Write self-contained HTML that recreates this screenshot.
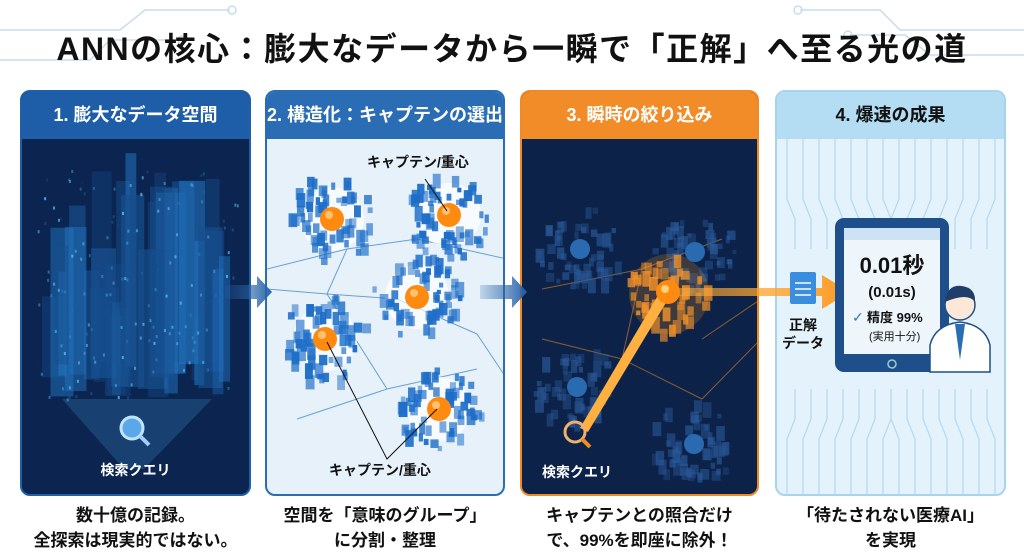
<!DOCTYPE html>
<html><head><meta charset="utf-8"><style>
*{margin:0;padding:0;box-sizing:border-box}
body{width:1024px;height:558px;background:#fff;font-family:"Liberation Sans","Noto Sans CJK JP",sans-serif;position:relative;overflow:hidden}
.t{position:absolute;left:0;width:1024px;top:24px;text-align:center;font-size:32px;font-weight:bold;color:#111;letter-spacing:1.5px}
.p{position:absolute;top:90px;height:406px;border-radius:10px;overflow:hidden}
.h{height:47px;line-height:47px;text-align:center;font-size:18px;font-weight:bold}
.c{position:absolute;top:503px;text-align:center;font-size:17px;font-weight:bold;color:#111;line-height:25px}
svg{position:absolute;left:0;top:0}
</style></head><body>
<svg width="1024" height="558" id="bg">
<g stroke="#c9dcef" stroke-width="1.5" fill="none">
<path d="M0 30 H120 L145 10 H230"/><path d="M0 60 H90 L110 40 H180"/><circle cx="232" cy="10" r="4"/><circle cx="182" cy="40" r="4"/>
<path d="M1024 30 H900 L880 10 H800"/><path d="M1024 55 H930 L905 35 H850"/><circle cx="798" cy="10" r="4"/><circle cx="848" cy="35" r="4"/>
</g></svg>
<div class="t">ANNの核心：膨大なデータから一瞬で「正解」へ至る光の道</div>

<div class="p" style="left:20px;width:231px;background:#0b2550;border:2px solid #1f5fa8">
<div class="h" style="background:#1e5ea8;color:#fff">1. 膨大なデータ空間</div>
<svg width="231" height="360" style="top:47px" id="s1"></svg>
<div style="position:absolute;top:368px;width:100%;text-align:center;color:#fff;font-size:14px;font-weight:bold">検索クエリ</div>
</div>

<div class="p" style="left:265px;width:240px;background:#e6f1fa;border:2px solid #2a6db5">
<div class="h" style="background:#2a6db5;color:#fff">2. 構造化：キャプテンの選出</div>
<svg width="240" height="360" style="top:47px" id="s2"></svg>
<div style="position:absolute;top:60px;left:100px;font-size:14px;font-weight:bold;color:#111">キャプテン/重心</div>
<div style="position:absolute;top:368px;left:62px;font-size:14px;font-weight:bold;color:#111">キャプテン/重心</div>
</div>

<div class="p" style="left:520px;width:239px;background:#0c2248;border:2px solid #f08a24">
<div class="h" style="background:#f28c28;color:#fff">3. 瞬時の絞り込み</div>
<svg width="239" height="360" style="top:47px" id="s3"></svg>
<div style="position:absolute;top:370px;left:20px;color:#fff;font-size:14px;font-weight:bold">検索クエリ</div>
</div>

<div class="p" style="left:775px;width:231px;background:#e4f2fb;border:2px solid #a7d3ee">
<div class="h" style="background:#b4ddf3;color:#111">4. 爆速の成果</div>
<svg width="231" height="360" style="top:47px" id="s4"></svg>
</div>

<svg width="1024" height="558" id="ov" style="pointer-events:none">
<defs><linearGradient id="ag" x1="0" x2="1"><stop offset="0" stop-color="#2a65aa" stop-opacity="0.2"/><stop offset="1" stop-color="#2a65aa"/></linearGradient>
<linearGradient id="og" x1="0" x2="1"><stop offset="0" stop-color="#ffb040" stop-opacity="0.5"/><stop offset="1" stop-color="#ff9a20"/></linearGradient></defs>
<path d="M225 285 H257 V276 L272 292 L257 308 V299 H225Z" fill="url(#ag)"/>
<path d="M480 285 H512 V276 L527 292 L512 308 V299 H480Z" fill="url(#ag)"/>
<path d="M668 288 H822 V275 L850 292 L822 309 V296 H668Z" fill="url(#og)"/>
<path d="M580 428 L660 292 L670 296 L588 432Z" fill="#ffb040"/>
<circle cx="668" cy="292" r="12" fill="#ff8a10"/><circle cx="665" cy="289" r="4" fill="#ffd27a"/>
<circle cx="575" cy="432" r="10" fill="none" stroke="#f0b070" stroke-width="3"/><line x1="582" y1="439" x2="590" y2="447" stroke="#f08a24" stroke-width="4"/>
<circle cx="132" cy="428" r="11" fill="#5aa8e8" stroke="#bfe4ff" stroke-width="3"/><line x1="140" y1="436" x2="149" y2="445" stroke="#9fd0ff" stroke-width="4"/>
<rect x="835" y="218" width="114" height="154" rx="9" fill="#1f4f8a"/>
<rect x="844" y="228" width="96" height="126" fill="#eef6fc"/>
<rect x="844" y="228" width="96" height="12" fill="#cde3f3"/>
<circle cx="892" cy="364" r="4" fill="none" stroke="#9cc" stroke-width="1.5"/>
<text x="892" y="273" font-size="22" font-weight="bold" text-anchor="middle" fill="#111" font-family="Liberation Sans,Noto Sans CJK JP,sans-serif">0.01秒</text>
<text x="892" y="297" font-size="15" font-weight="bold" text-anchor="middle" fill="#111" font-family="Liberation Sans,Noto Sans CJK JP,sans-serif">(0.01s)</text>
<text x="852" y="322" font-size="14" fill="#2a7cc8" font-family="Liberation Sans,sans-serif">✓</text>
<text x="867" y="322" font-size="13" font-weight="bold" fill="#111" font-family="Liberation Sans,Noto Sans CJK JP,sans-serif">精度 99%</text>
<text x="869" y="340" font-size="11" fill="#111" font-family="Liberation Sans,Noto Sans CJK JP,sans-serif">(実用十分)</text>
<rect x="790" y="272" width="26" height="32" rx="2" fill="#3a8ee0"/><g stroke="#fff" stroke-width="1.5"><line x1="795" y1="283" x2="811" y2="283"/><line x1="795" y1="289" x2="811" y2="289"/><line x1="795" y1="295" x2="811" y2="295"/></g>
<text x="803" y="330" font-size="14" font-weight="bold" text-anchor="middle" fill="#111" font-family="Liberation Sans,Noto Sans CJK JP,sans-serif">正解</text>
<text x="803" y="348" font-size="14" font-weight="bold" text-anchor="middle" fill="#111" font-family="Liberation Sans,Noto Sans CJK JP,sans-serif">データ</text>
<path d="M930 372 V345 Q935 325 960 322 Q985 325 990 345 V372Z" fill="#fff" stroke="#1f4f8a" stroke-width="1.5"/>
<path d="M955 324 L960 360 L965 324Z" fill="#2a6db5"/>
<circle cx="960" cy="305" r="15" fill="#fde7d6" stroke="#1f4f8a" stroke-width="1.5"/>
<path d="M945 302 Q947 284 962 286 Q976 288 975 302 Q968 292 945 302Z" fill="#1f3f6a"/>
</svg>

<div class="c" style="left:20px;width:231px">数十億の記録。<br>全探索は現実的ではない。</div>
<div class="c" style="left:265px;width:240px">空間を「意味のグループ」<br>に分割・整理</div>
<div class="c" style="left:520px;width:239px">キャプテンとの照合だけ<br>で、99%を即座に除外！</div>
<div class="c" style="left:775px;width:231px">「待たされない医療AI」<br>を実現</div>

<script>
var NS="http://www.w3.org/2000/svg";
function el(s,t,a){var e=document.createElementNS(NS,t);for(var k in a)e.setAttribute(k,a[k]);s.appendChild(e);return e;}
var r=1;function rnd(){r=(r*16807)%2147483647;return r/2147483647;}
var s1=document.getElementById('s1');
for(var i=0;i<34;i++){var x=20+rnd()*180,h=60+rnd()*160,w=8+rnd()*22;el(s1,'rect',{x:x,y:220-h+rnd()*40,width:w,height:h,fill:rnd()>0.5?'#174f8e':'#2274bf',opacity:0.3+rnd()*0.4});}
for(var i=0;i<150;i++){el(s1,'rect',{x:15+rnd()*200,y:30+rnd()*230,width:2,height:3,fill:'#5cc8ff',opacity:rnd()*0.8});}
el(s1,'path',{d:'M40 260 L190 260 L122 330 L102 330Z',fill:'#4aa8e8',opacity:0.22});
function cluster(s,cx,cy,R,col,op,n){for(var i=0;i<(n||45);i++){var a=rnd()*6.28,d=R*0.35+rnd()*R*0.65,z=4+rnd()*5;el(s,'rect',{x:cx+Math.cos(a)*d-z/2,y:cy+Math.sin(a)*d-z/2,width:z,height:z*(1+rnd()),fill:col,opacity:op*(0.5+rnd()*0.5)});}}
var s2=document.getElementById('s2');
var c2=[[65,80],[182,76],[150,158],[58,200],[172,270]];
[[0,130,80,110],[80,110,150,100],[150,100,240,120],[80,110,60,155],[60,155,0,150],[60,155,130,160],[130,160,210,195],[60,155,120,250],[120,250,210,230],[120,250,30,280],[210,195,240,240]].forEach(function(l){el(s2,'line',{x1:l[0],y1:l[1],x2:l[2],y2:l[3],stroke:'#6aa0d0','stroke-width':1});});
c2.forEach(function(c){el(s2,'circle',{cx:c[0],cy:c[1],r:32,fill:'#fff',opacity:0.7});cluster(s2,c[0],c[1],44,'#1e6ec8',1,60);el(s2,'circle',{cx:c[0],cy:c[1],r:12,fill:'#ff8a10'});el(s2,'circle',{cx:c[0]-3,cy:c[1]-4,r:4,fill:'#ffc070'});});
el(s2,'line',{x1:158,y1:40,x2:180,y2:72,stroke:'#111'});
el(s2,'polyline',{points:'60,203 120,320 170,270',fill:'none',stroke:'#111'});
var s3=document.getElementById('s3');
[[20,150,120,130],[120,130,200,100],[120,130,100,220],[100,220,20,200],[100,220,180,260],[180,260,239,200],[180,200,239,160]].forEach(function(l){el(s3,'line',{x1:l[0],y1:l[1],x2:l[2],y2:l[3],stroke:'#c0782a','stroke-width':1,opacity:0.7});});
[[58,110],[173,113],[55,248],[172,305]].forEach(function(c){cluster(s3,c[0],c[1],42,'#2a5a9a',0.7,55);el(s3,'circle',{cx:c[0],cy:c[1],r:10,fill:'#2a6ab0'});});
el(s3,'circle',{cx:147,cy:155,r:40,fill:'#ff9a20',opacity:0.2});
cluster(s3,147,155,40,'#f0902a',0.9);
var s4=document.getElementById('s4');
for(var i=0;i<14;i++){var x=10+i*16;el(s4,'path',{d:'M'+x+' 0 V60 L'+(x+ (x<115?8:-8))+' 80 V110',fill:'none',stroke:'#b5d8ef','stroke-width':1.2});el(s4,'path',{d:'M'+x+' 360 V300 L'+(x+(x<115?8:-8))+' 280 V250',fill:'none',stroke:'#b5d8ef','stroke-width':1.2});}
</script>
</body></html>
